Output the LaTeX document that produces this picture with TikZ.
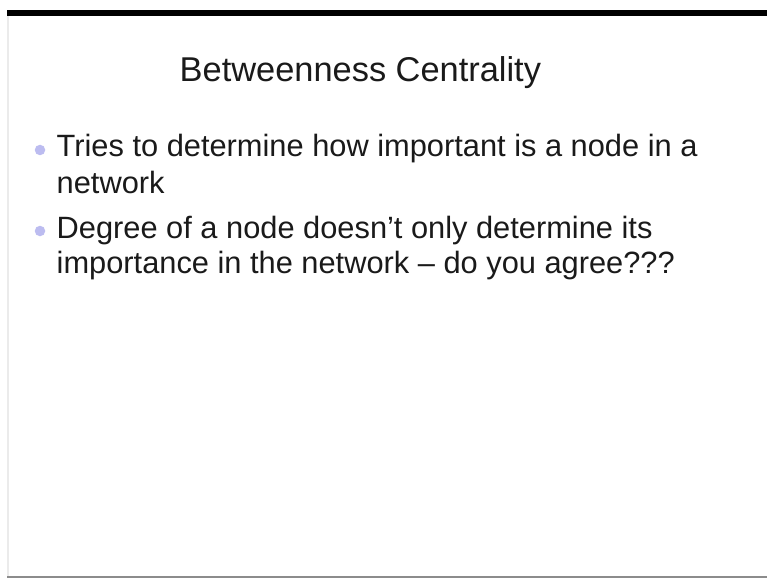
\documentclass[tikz,border=0pt]{standalone}
\usepackage{fontspec}
\setmainfont{Liberation Sans}
\definecolor{bulletc}{HTML}{BCBCF0}
\definecolor{txt}{HTML}{1A1A1A}
\tikzset{
  titletext/.style={anchor=base west, inner sep=0pt, text=txt, font=\fontsize{34.4}{42}\selectfont},
  bodytext/.style={anchor=base west, inner sep=0pt, text=txt, font=\fontsize{30.8}{36}\selectfont},
  bulletdot/.style={circle, fill=bulletc, minimum size=10.5pt, inner sep=0pt}
}
\begin{document}
\begin{tikzpicture}[x=1pt,y=-1pt]
\useasboundingbox[fill=white] (0,0) rectangle (767,580);
% frame lines
\fill[black] (7,10.5) rectangle (767,16);
\fill[black!8] (7,16) rectangle (8.5,576);
\fill[black!45] (7,576) rectangle (767,578);
% title
\node[titletext] (title) at (179.5,82) {Betweenness Centrality};
% bullets
\node[bulletdot] (b1) at (40,150) {};
\node[bodytext] (l1) at (56.5,157) {Tries to determine how important is a node in a};
\node[bodytext] (l2) at (56.5,193) {network};
\node[bulletdot] (b2) at (40,231) {};
\node[bodytext] (l3) at (56.5,238) {Degree of a node doesn’t only determine its};
\node[bodytext] (l4) at (56.5,273) {importance in the network – do you agree???};
\end{tikzpicture}
\end{document}
